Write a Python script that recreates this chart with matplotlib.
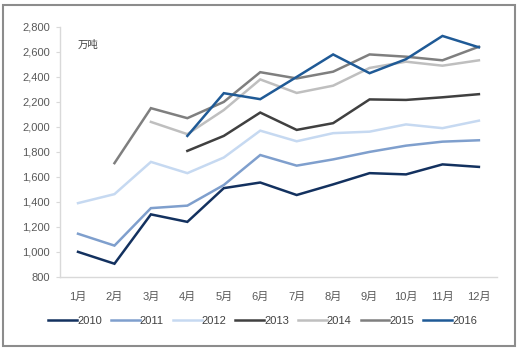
import matplotlib
matplotlib.use("Agg")
import matplotlib.pyplot as plt
from matplotlib.patches import Rectangle
from matplotlib.ticker import FuncFormatter

plt.rcParams['font.family'] = ['Liberation Sans', 'Noto Sans CJK SC', 'DejaVu Sans']

months = ['1月', '2月', '3月', '4月', '5月', '6月', '7月', '8月', '9月', '10月', '11月', '12月']
nan = float('nan')

y2010 = [1000, 905, 1300, 1240, 1510, 1555, 1455, 1540, 1630, 1620, 1700, 1680]
y2011 = [1145, 1050, 1350, 1370, 1535, 1775, 1690, 1740, 1800, 1850, 1882, 1893]
y2012 = [1390, 1462, 1720, 1630, 1755, 1970, 1885, 1950, 1962, 2020, 1990, 2050]
y2013 = [nan, nan, nan, 1808, 1928, 2115, 1976, 2030, 2220, 2216, 2237, 2262]
y2014 = [nan, nan, 2040, 1942, 2135, 2380, 2272, 2330, 2472, 2522, 2490, 2533]
y2015 = [nan, 1710, 2150, 2070, 2200, 2438, 2388, 2442, 2580, 2562, 2533, 2642]
y2016 = [nan, nan, nan, 1928, 2270, 2222, 2400, 2580, 2430, 2542, 2728, 2637]

series = [
    ('2010', y2010, '#13315f'),
    ('2011', y2011, '#7f9fcd'),
    ('2012', y2012, '#c6d9f1'),
    ('2013', y2013, '#404040'),
    ('2014', y2014, '#bfbfbf'),
    ('2015', y2015, '#7f7f7f'),
    ('2016', y2016, '#1f5a96'),
]

fig = plt.figure(figsize=(5.2, 3.5), dpi=100)
ax = fig.add_axes([0.115, 0.209, 0.841, 0.714])

x = list(range(len(months)))
for name, vals, col in series:
    ax.plot(x, vals, color=col, lw=1.8, label=name, solid_joinstyle='miter')

ax.set_xlim(-0.5, 11.5)
ax.set_ylim(800, 2800)
ax.set_yticks(range(800, 2801, 200))
ax.yaxis.set_major_formatter(FuncFormatter(lambda v, p: f'{int(v):,}'))
ax.set_xticks(x)
ax.set_xticklabels(months)

for s in ['top', 'right']:
    ax.spines[s].set_visible(False)
for s in ['left', 'bottom']:
    ax.spines[s].set_color('#d9d9d9')
    ax.spines[s].set_linewidth(1.0)
ax.tick_params(axis='y', colors='#595959', labelsize=8, length=3, width=0.8,
               pad=4, color='#d9d9d9')
ax.tick_params(axis='x', colors='#595959', labelsize=8, length=0, pad=11)

ax.text(0.04, 0.95, '万吨', transform=ax.transAxes, fontsize=7.5,
        color='#404040', va='top', ha='left')

fig.legend(loc='center', bbox_to_anchor=(0.505, 0.083), ncol=7, frameon=False,
           fontsize=8, handlelength=2.6, handletextpad=0.0, columnspacing=0.8,
           labelcolor='#404040')

fig.patches.append(Rectangle((0.006, 0.012), 0.985, 0.975, transform=fig.transFigure,
                             fill=False, edgecolor='#8c8c8c', lw=1.5))

fig.savefig('out.png', dpi=100)
